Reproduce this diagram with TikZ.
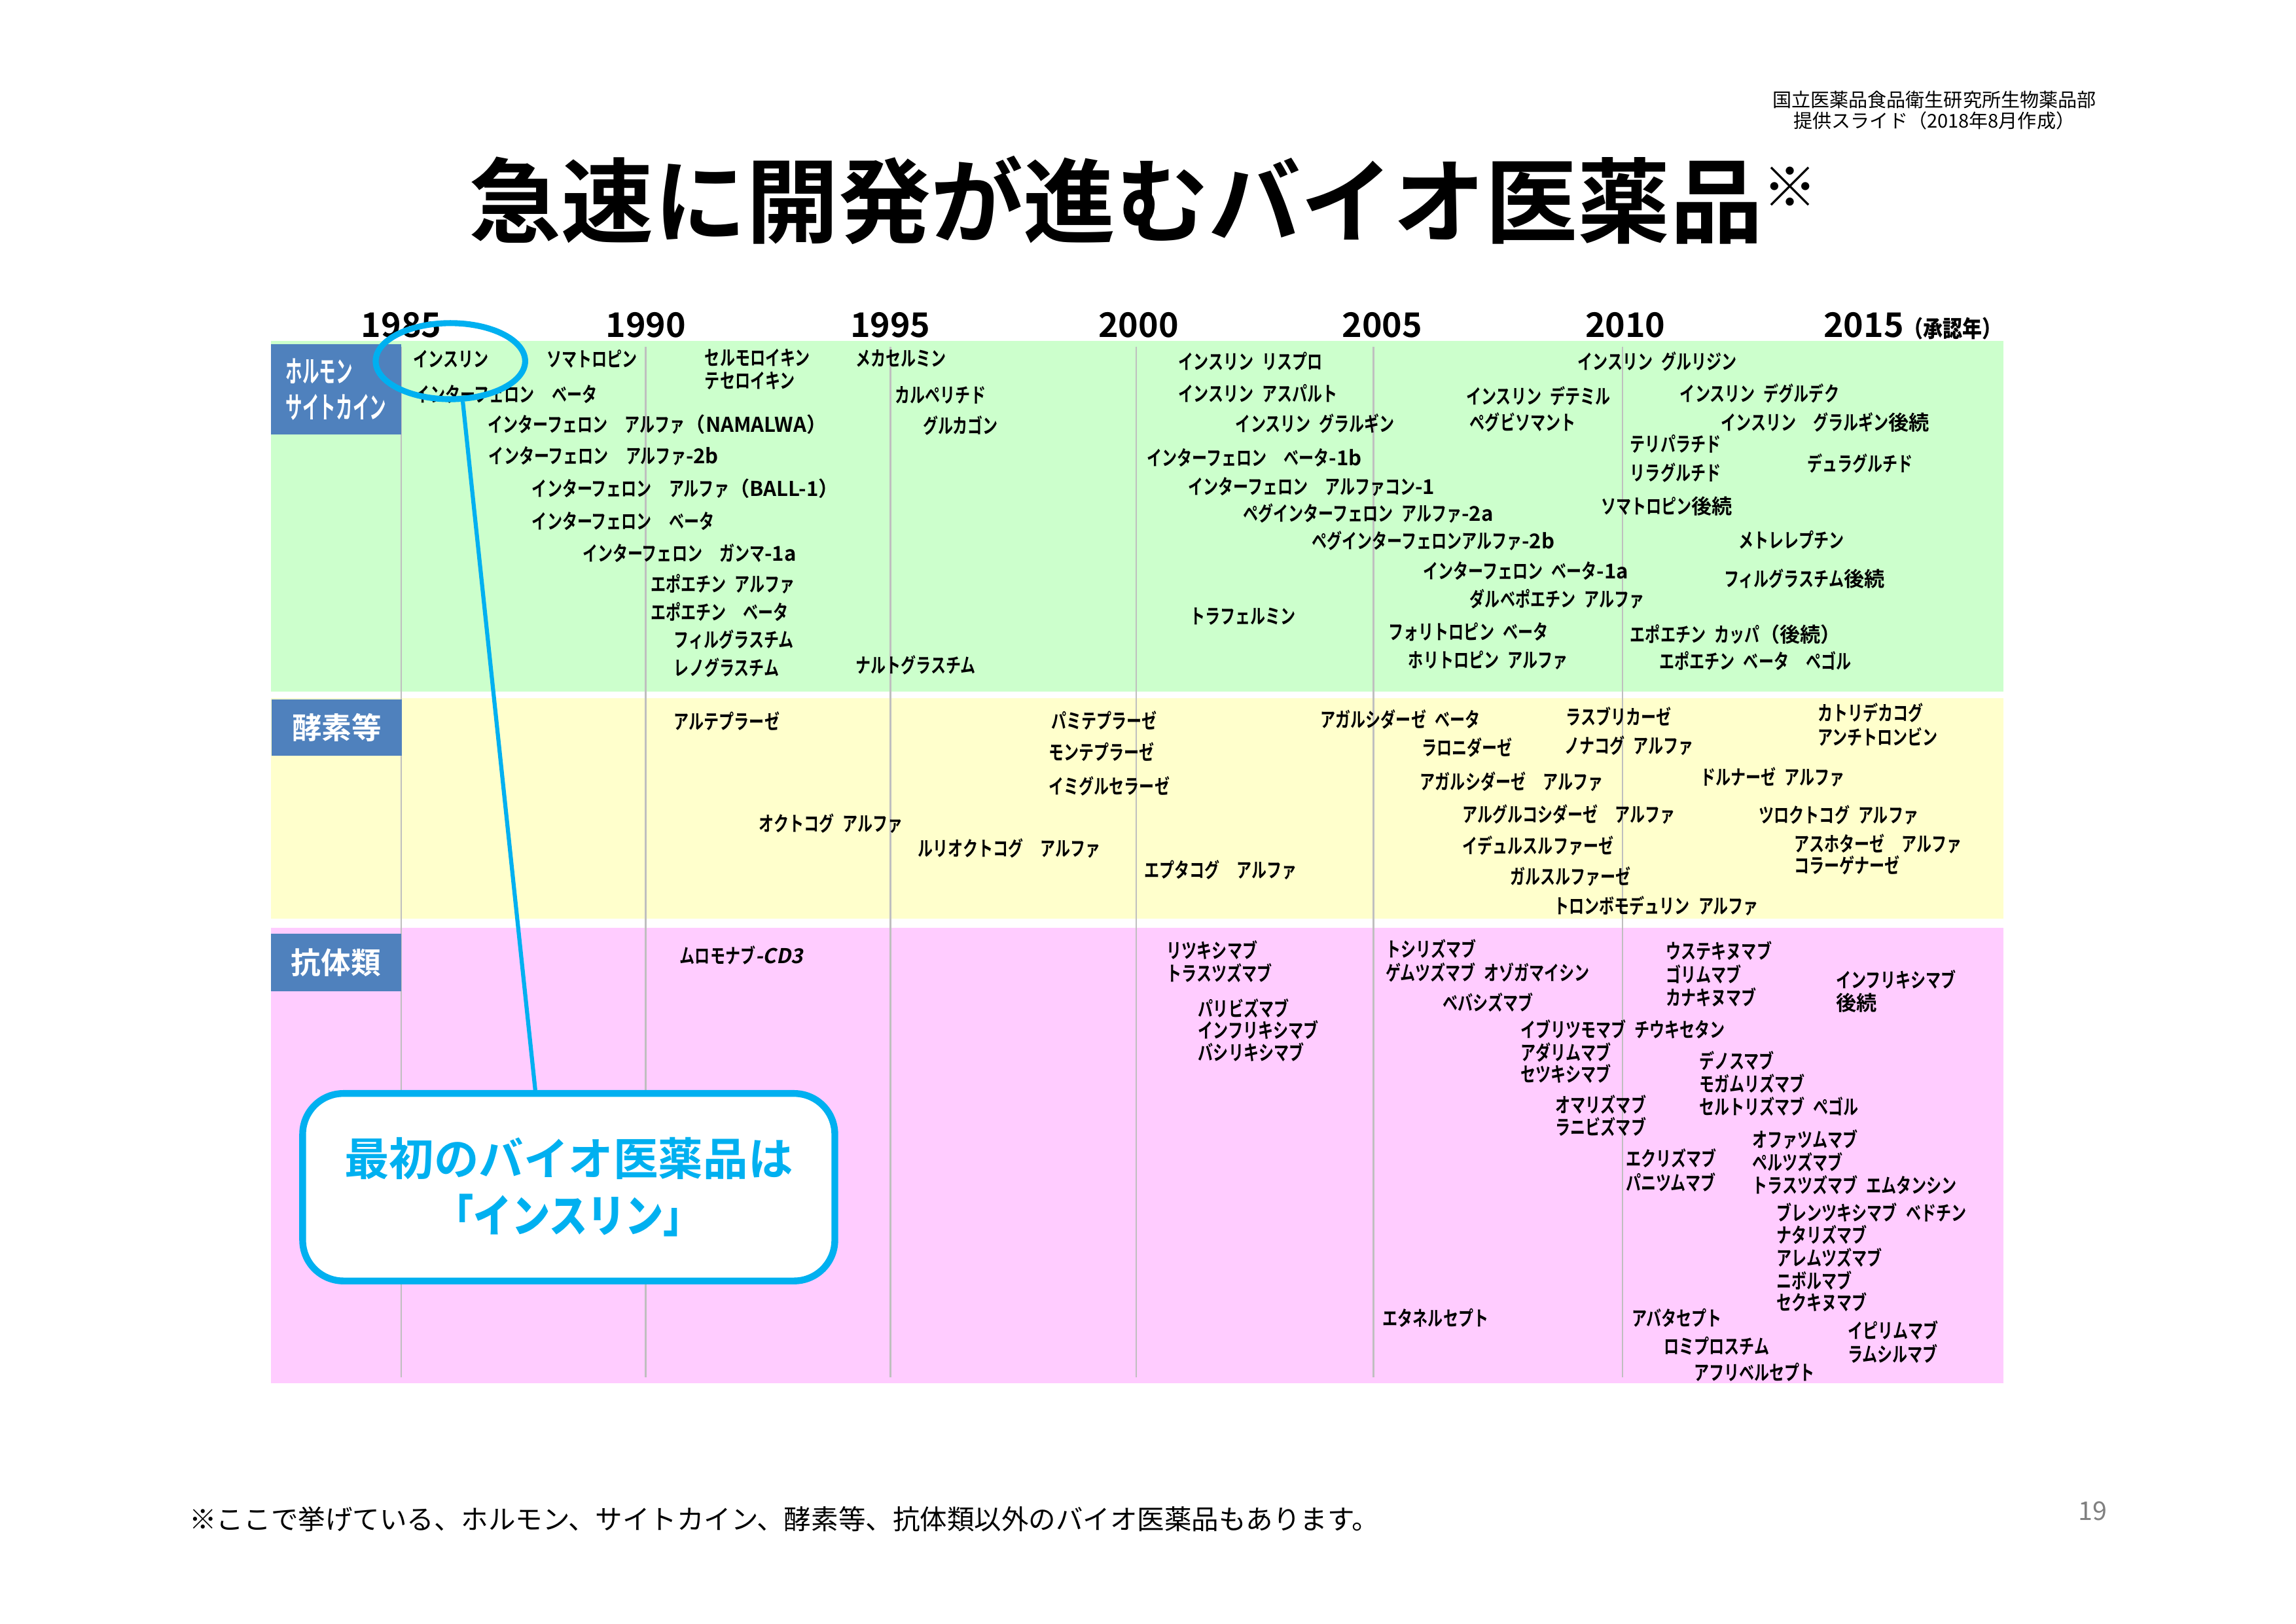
\documentclass[tikz,border=0pt]{standalone}
\usepackage{fontspec}
\usetikzlibrary{shapes.geometric}
\setmainfont{Noto Sans CJK JP}[BoldFont=Noto Sans CJK JP Bold]
\newfontfamily\lblfont{Noto Sans CJK JP Bold}[FakeStretch=0.74,WordSpace=2.5]
\newfontfamily\widefont{Noto Sans CJK JP Bold}[WordSpace=2.5]
\newfontfamily\slantfont{Noto Sans CJK JP Bold}[FakeSlant=0.2]
\newfontfamily\tagfont{Noto Sans CJK JP Bold}[FakeStretch=0.56]
\newfontfamily\notefont{Noto Sans CJK JP Bold}[FakeStretch=0.85]
\newcommand\wide[1]{{\widefont #1}}
\definecolor{hormgreen}{HTML}{CCFFCC}
\definecolor{enzyellow}{HTML}{FFFFCC}
\definecolor{abpink}{HTML}{FFCCFF}
\definecolor{tagblue}{HTML}{4F81BD}
\definecolor{callcyan}{HTML}{00B0F0}
\definecolor{gridgray}{HTML}{BFBFBF}
\begin{document}
\begin{tikzpicture}[x=0.018941cm,y=-0.018941cm,
    lbl/.style={anchor=west,inner sep=0pt,text height=5.6pt,text depth=0pt,font=\lblfont\fontsize{7.5}{9}\selectfont},
    year/.style={inner sep=0pt,text height=9.1pt,text depth=0pt,font=\bfseries\fontsize{12.5}{14}\selectfont},
    tag/.style={fill=tagblue,text=white,inner sep=0pt,minimum width=48pt},
    yearline/.style={gridgray,line width=0.6pt}]
\useasboundingbox (0,0) rectangle (1568,1109);
\fill[white] (0,0) rectangle (1568,1109);

\node[inner sep=0pt,align=center,font=\fontsize{7}{7.7}\selectfont] (source) at (1321,75.6)
    {国立医薬品食品衛生研究所生物薬品部\\提供スライド（2018年8月作成）};
\node[anchor=west,inner sep=0pt,text height=25.8pt,text depth=0pt,font=\bfseries\fontsize{34}{40}\selectfont] (title) at (320,137)
    {急速に開発が進むバイオ医薬品{\fontsize{20}{24}\selectfont\raisebox{10.4pt}{※}}};

\fill[hormgreen] (185,233) rectangle (1368,472.5);
\fill[enzyellow] (185,477) rectangle (1368,627.5);
\fill[abpink] (185,634) rectangle (1368,945);
\foreach \x in {274,441,608,776,938,1108}
    \draw[yearline] (\x,237) -- (\x,941);

\node[tag,minimum height=33.4pt,align=left,font=\tagfont\fontsize{11}{13.4}\selectfont] (hormone) at (229.5,266) {ホルモン\\サイトカイン};
\node[tag,minimum height=20.5pt,font=\bfseries\fontsize{11}{13}\selectfont] (enzyme) at (230,497) {酵素等};
\node[tag,minimum height=21pt,font=\bfseries\fontsize{11}{13}\selectfont] (antibody) at (229.5,657.5) {抗体類};

\foreach \x/\yr in {274/1985,441/1990,608/1995,777.5/2000,944/2005,1110/2010}
    \node[year] (y\yr) at (\x,222) {\yr};
\node[year,anchor=west] (y2015) at (1245,222) {2015{\notefont\fontsize{8.5}{10}\selectfont（承認年）}};

\foreach \x/\y/\t [count=\i] in {
    282/245.5/インスリン, 373/245.5/ソマトロピン, 481/244.5/セルモロイキン, 481/260/テセロイキン,
    584/245/メカセルミン, 283/269.5/インターフェロン~~ベータ, 611/270/カルペリチド,
    333/290/インターフェロン~~アルファ\wide{（NAMALWA）}, 630/291/グルカゴン,
    333.5/311.5/インターフェロン~~アルファ\wide{-2b}, 363/334/インターフェロン~~アルファ\wide{（BALL-1）},
    363/356/インターフェロン~~ベータ, 397.5/378/インターフェロン~~ガンマ\wide{-1a},
    444/399/エポエチン~アルファ, 444/418.5/エポエチン~~ベータ, 460/437/フィルグラスチム,
    460/456.5/レノグラスチム, 584/454.5/ナルトグラスチム,
    804.5/247/インスリン~リスプロ, 804.5/269/インスリン~アスパルト, 843.5/289.5/インスリン~グラルギン,
    783/313/インターフェロン~~ベータ\wide{-1b}, 811/332.5/インターフェロン~~アルファコン\wide{-1},
    848.5/351/ペグインターフェロン~アルファ\wide{-2a}, 895.5/369.5/ペグインターフェロンアルファ\wide{-2b},
    812.5/421/トラフェルミン, 1001/271/インスリン~デテミル, 1003.5/288.5/ペグビソマント,
    971.5/390/インターフェロン~ベータ\wide{-1a}, 1003.5/409.5/ダルベポエチン~アルファ,
    948/431.5/フォリトロピン~ベータ, 961.5/451/ホリトロピン~アルファ,
    1077/247/インスリン~グルリジン, 1147/269/インスリン~デグルデク, 1175/288.5/インスリン~~グラルギン\wide{後続},
    1113/303.5/テリパラチド, 1113/323/リラグルチド, 1234/317/デュラグルチド, 1093/346/ソマトロピン\wide{後続},
    1187/369/メトレレプチン, 1177/395.5/フィルグラスチム\wide{後続}, 1113/433.5/エポエチン~カッパ\wide{（後続）},
    1133/452/エポエチン~ベータ~~ペゴル}
    \node[lbl] (horm\i) at (\x,\y) {\t};

\foreach \x/\y/\t [count=\i] in {
    460/493/アルテプラーゼ, 717.5/492.5/パミテプラーゼ, 716/514/モンテプラーゼ, 716/537/イミグルセラーゼ,
    518/562.5/オクトコグ~アルファ, 626.5/579.5/ルリオクトコグ~~アルファ, 781/594.5/エプタコグ~~アルファ,
    901.5/491.5/アガルシダーゼ~ベータ, 970.5/511/ラロニダーゼ, 969.5/534/アガルシダーゼ~~アルファ,
    998.5/556.5/アルグルコシダーゼ~~アルファ, 998.5/578/イデュルスルファーゼ, 1031/599/ガルスルファーゼ,
    1061/619/トロンボモデュリン~アルファ, 1069/490/ラスブリカーゼ, 1068/509.5/ノナコグ~アルファ,
    1161/531/ドルナーゼ~アルファ, 1241/487/カトリデカコグ, 1241/503.5/アンチトロンビン,
    1201/557/ツロクトコグ~アルファ, 1225/576.5/アスホターゼ~~アルファ, 1225/591.5/コラーゲナーゼ}
    \node[lbl] (enz\i) at (\x,\y) {\t};

\foreach \x/\y/\t [count=\i] in {
    464/653/ムロモナブ{\slantfont -CD3}, 796.5/649.5/リツキシマブ, 796.5/665/トラスツズマブ,
    818/689/パリビズマブ, 818/704/インフリキシマブ, 818/719/バシリキシマブ,
    946/648.5/トシリズマブ, 946/664.5/ゲムツズマブ~オゾガマイシン, 985/685/ベバシズマブ,
    1038/703.5/イブリツモマブ~チウキセタン, 1038/719/アダリムマブ, 1038/734/セツキシマブ,
    1062/755/オマリズマブ, 1062/770/ラニビズマブ, 1110/791.5/エクリズマブ, 1110/808/パニツムマブ,
    944/900.5/エタネルセプト, 1137.5/650/ウステキヌマブ, 1137.5/666/ゴリムマブ, 1137.5/681.5/カナキヌマブ,
    1253.5/669.5/インフリキシマブ, 1253.5/685/\wide{後続},
    1160/725/デノスマブ, 1160/740.5/モガムリズマブ, 1160/756/セルトリズマブ~ペゴル,
    1196.5/778.5/オファツムマブ, 1196.5/794/ペルツズマブ, 1196.5/810/トラスツズマブ~エムタンシン,
    1213/828.5/ブレンツキシマブ~ベドチン, 1213/844/ナタリズマブ, 1213/859.5/アレムツズマブ,
    1213/875/ニボルマブ, 1213/890/セクキヌマブ, 1114/900.5/アバタセプト, 1136/920/ロミプロスチム,
    1156.5/937.5/アフリベルセプト, 1261.5/909/イピリムマブ, 1261.5/925/ラムシルマブ}
    \node[lbl] (ab\i) at (\x,\y) {\t};

\node[draw=callcyan,line width=2.2pt,ellipse,inner sep=0pt,minimum width=55pt,minimum height=28pt] (ring) at (307.6,246.7) {};
\node[draw=callcyan,line width=2.5pt,fill=white,rounded corners=15pt,minimum width=195.8pt,minimum height=69pt,
    inner sep=0pt,align=center,text=callcyan,font=\bfseries\fontsize{16.5}{21}\selectfont] (callout) at (388.4,811)
    {最初のバイオ医薬品は\\{\notefont「インスリン」}};
\draw[callcyan,line width=1.5pt] (ring.-73) -- (callout.109);

\node[anchor=west,inner sep=0pt,text height=7.5pt,text depth=0pt,font=\fontsize{10}{12}\selectfont] (footnote) at (129,1038)
    {※ここで挙げている、ホルモン、サイトカイン、酵素等、抗体類以外のバイオ医薬品もあります。};
\node[inner sep=0pt,text height=6.9pt,text depth=0pt,text=gray,font=\fontsize{9.5}{11}\selectfont] (page) at (1429,1032) {19};
\end{tikzpicture}
\end{document}
